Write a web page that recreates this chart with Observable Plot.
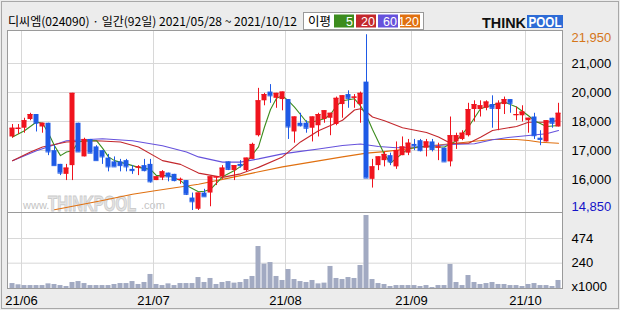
<!DOCTYPE html>
<html><head><meta charset="utf-8">
<script src="https://cdn.jsdelivr.net/npm/d3@7"></script>
<script src="https://cdn.jsdelivr.net/npm/@observablehq/plot@0.6"></script>
<style>
body{margin:0;background:#ececec;}
#wrap{position:relative;width:620px;height:310px;background:#ececec;overflow:hidden;font-family:"Liberation Sans",Arial,sans-serif;}
.abs{position:absolute;left:0;top:0;}
</style></head><body>
<div id="wrap">
  <div class="abs" style="left:1px;top:1px;width:616px;height:306px;border:1px solid #a8a8a8;"></div>
  <div class="abs" style="left:7px;top:30px;width:554px;height:257px;border:1px solid #9a9a9a;background:#fff;"></div>
  <div class="abs" style="left:8px;top:212px;width:554px;height:1px;background:#9a9a9a;"></div>
  <svg class="abs" width="620" height="310" id="deco"></svg>
</div>
<script>
// ---------- data ----------
const title = "디씨엠(024090) · 일간(92일) 2021/05/28 ~ 2021/10/12";
const opens  = [17800,18100,18150,18500,18700,18200,18350,17250,16700,16300,16650,18350,17000,17700,17400,17250,16950,16800,16800,16850,16500,16550,16650,16700,16050,16150,16350,16300,16050,16050,15350,14900,15550,15550,16150,16200,16800,16450,16700,16450,16900,17850,19250,19600,19350,19300,19300,18000,18350,18350,18150,18250,18500,18550,18300,19100,19500,19350,19100,20000,16100,16650,16850,17050,16600,17050,17150,17500,17650,17350,17600,17350,17350,16800,17600,17700,17850,18900,18900,18950,19100,18900,19100,19300,18650,18650,18450,18600,17750,17600,18550,18200];
const highs  = [18300,18300,18550,18750,18700,18350,18350,17450,16700,16700,19550,18350,17750,17700,17450,17250,17100,17000,16900,16900,16650,16650,16900,16900,16200,16450,16350,16300,16150,16050,15550,15550,15700,16200,16200,16650,16800,16650,16850,16950,17550,19750,19550,19900,19550,19600,19300,18600,18750,18450,18600,18750,18850,18750,19400,19450,19650,19500,19600,21900,16900,17000,17200,17150,17600,17800,17700,17700,17700,17700,17700,17550,17350,18600,17950,18050,19150,19250,19250,19250,19450,19250,19400,19300,19000,19050,18550,18750,18050,18450,18550,19150];
const lows   = [17750,17900,17950,18450,18000,17950,17050,16650,16250,16050,16050,17200,17000,17150,16850,16700,16400,16600,16400,16400,16300,16250,16400,15950,16050,16050,16000,16000,15900,15450,14850,14850,15400,15000,15850,16100,16450,16050,16550,16400,16900,17800,19050,19150,18950,18850,17700,17550,18200,17950,17600,17800,18350,17850,18250,18550,18950,18950,18350,16150,15750,16450,16600,16650,16500,17050,17050,17250,17200,17000,17200,16850,16800,16600,17300,17650,17800,18400,18600,18850,18150,18050,18700,18750,18450,18400,17950,17700,17450,17600,18150,18200];
const closes = [18150,18150,18450,18700,18350,18350,17200,16650,16350,16550,19550,17200,17700,17150,16850,17000,16600,16600,16650,16600,16450,16600,16450,16000,16200,16400,16200,16050,16100,15500,15200,15550,15400,16200,16200,16550,16500,16650,16650,16950,17500,19250,19500,19450,19550,19600,18200,18600,18250,18150,18600,18700,18850,18750,19350,19450,19350,19400,19550,16150,16600,17000,17100,16800,17250,17400,17550,17450,17250,17600,17300,17400,16800,17850,17850,17950,18900,19100,19050,19200,18950,19150,19300,19150,18700,18800,18550,17850,17700,18450,18350,18750];
const volumes = [47,35,28,28,28,28,44,38,28,19,57,66,47,28,28,28,28,38,47,47,66,38,57,133,38,28,44,28,47,47,47,104,57,95,38,57,66,51,57,85,114,398,231,246,114,76,180,85,66,57,76,44,51,209,95,85,104,95,218,692,85,47,38,19,28,28,28,28,19,28,9,28,28,228,57,28,123,57,38,47,57,38,38,28,28,19,38,47,28,28,19,76];

const ma5Idx = [0,2,4,5,6,7,8,9,10,11,12,14,15,16,17,19,21,23,24,26,28,29,31,32,33,35,37,39,41,42,43,44,45,46,47,48,49,50,52,53,54,55,57,58,59,60,61,62,63,64,66,68,70,72,74,76,78,80,82,84,86,87,89,91];
const ma5Val = [17800,18050,18400,18350,17950,17450,17050,17200,17250,17600,17650,17650,17350,17000,16850,16720,16580,16500,16250,16250,16050,15850,15600,15620,15700,16200,16450,16780,17400,18200,18900,19350,19450,19250,19000,18700,18400,18400,18530,18700,19050,19250,19330,19050,18650,18100,17600,17100,16750,16950,17330,17420,17400,17400,17650,18200,18930,19080,19200,19000,18650,18450,18220,18260];
const ma20Idx = [0,3,5,9,14,18,21,25,28,31,35,38,41,45,48,51,55,57,58,59,60,62,65,69,71,73,76,78,80,84,86,89,91];
const ma20Val = [16850,17200,17400,17600,17650,17600,17400,16850,16700,16350,16180,16320,16580,17000,17600,18050,18470,18880,18930,18800,18600,18450,18170,17980,17800,17550,17550,17790,18060,18220,18390,18390,18460];
const ma60Idx = [0,4,9,15,20,25,29,31,35,38,41,45,48,51,55,58,61,64,69,73,77,80,83,86,89,91];
const ma60Val = [16850,17250,17650,17730,17650,17450,17200,17000,16790,16790,16920,17120,17220,17320,17460,17520,17420,17370,17420,17500,17530,17690,17790,17860,17930,18060];
const ma120Idx = [7,15,20,24,31,35,40,45,50,55,59,62,66,70,74,77,80,84,86,88,91];
const ma120Val = [14880,15250,15500,15650,15900,16100,16350,16600,16800,17000,17150,17210,17330,17460,17550,17630,17700,17700,17660,17590,17550];

const priceTop = 21950, priceBottom = 14850;
const priceGrid = [16093,17257,18420,19583,20747];
const priceGridLabels = ["16,000","17,000","18,000","20,000","21,000"];
const volMax = 711;
const volGrid = [240,474];
const monthIdx = [2,24,46,67,86];
const monthLabels = ["21/06","21/07","21/08","21/09","21/10"];
const maNames = ["5","20","60","120"];

// ---------- style ----------
const RED = "#f0141e", BLUE = "#1e5ae6";
const MA_COL = ["#3c8c1e","#c3282d","#6652dc","#e07010"];
const GRID = "#d8d8d8";
const FONT = "Liberation Sans, Arial, sans-serif";

const N = opens.length;
const xDomain = d3.range(N);
const candles = opens.map((o,i)=>({i,o,h:highs[i],l:lows[i],c:closes[i],col: closes[i]>=o ? RED : BLUE}));
const maSeries = [[ma5Idx,ma5Val],[ma20Idx,ma20Val],[ma60Idx,ma60Val],[ma120Idx,ma120Val]]
  .map(([ix,vals],k)=>ix.map((i,j)=>({i,v:vals[j],k})));
const labelOf = new Map(priceGrid.map((v,i)=>[v,priceGridLabels[i]]));

const price = Plot.plot({
  width:620, height:212, marginLeft:8, marginRight:58, marginTop:33, marginBottom:2,
  x:{type:"band", domain:xDomain, padding:0, axis:null, label:null},
  y:{domain:[priceBottom, priceTop], axis:null, label:null},
  color:{type:"identity"},
  style:{background:"transparent", color:"#000", fontFamily:FONT, fontSize:"13px", overflow:"visible"},
  marks:[
    Plot.ruleY(priceGrid, {y:d=>d, stroke:GRID}),
    Plot.ruleX(monthIdx, {x:d=>d, dx:-3, stroke:GRID, insetTop:-2, insetBottom:-2}),
    ...maSeries.slice().reverse().map(s=>Plot.line(s, {x:"i", y:"v", stroke:MA_COL[s[0].k], strokeWidth:1.1})),
    Plot.ruleX(candles, {x:"i", y1:"l", y2:"h", stroke:"col"}),
    Plot.barY(candles, {x:"i", y1:"o", y2:"c", fill:"col", insetLeft:0.5, insetRight:0.5}),
    Plot.tickY(candles, {x:"i", y:"c", stroke:"col", insetLeft:0.5, insetRight:0.5}),
    Plot.axisY(priceGrid, {anchor:"right", label:null, tickSize:0, tickPadding:9, tickFormat:d=>labelOf.get(d), fontSize:13}),
    Plot.text([priceTop], {y:d=>d, text:d=>d3.format(",")(d), frameAnchor:"right", textAnchor:"start", dx:9, dy:4.5, fill:"#d5761a", fontSize:13}),
    Plot.text([priceBottom], {y:d=>d, text:d=>d3.format(",")(d), frameAnchor:"right", textAnchor:"start", dx:9, dy:-3.5, fill:"#1414c8", fontSize:13})
  ]
});

const volData = volumes.map((v,i)=>({i,v}));
const volume = Plot.plot({
  width:620, height:310, marginLeft:8, marginRight:58, marginTop:213, marginBottom:22,
  x:{type:"band", domain:xDomain, padding:0, axis:null, label:null},
  y:{domain:[0, volMax], axis:null, label:null},
  style:{background:"transparent", color:"#000", fontFamily:FONT, fontSize:"13px", overflow:"visible"},
  marks:[
    Plot.ruleY(volGrid, {y:d=>d, stroke:GRID}),
    Plot.ruleX(monthIdx, {x:d=>d, dx:-3, stroke:GRID}),
    Plot.barY(volData, {x:"i", y:"v", fill:"#a2aac2", insetLeft:0.5, insetRight:0.5}),
    Plot.axisY(volGrid, {anchor:"right", label:null, tickSize:0, tickPadding:9, fontSize:13}),
    Plot.text(["x1000"], {y:()=>0, text:d=>d, frameAnchor:"right", textAnchor:"start", dx:9, dy:-2, fontSize:13}),
    Plot.axisX(monthIdx, {anchor:"bottom", label:null, tickSize:0, tickPadding:7, dx:-3, tickFormat:d=>monthLabels[monthIdx.indexOf(d)], fontSize:13})
  ]
});

const wrap = document.getElementById("wrap");
for (const p of [price, volume]) { p.classList.add("abs"); p.style.position="absolute"; wrap.appendChild(p); }

// ---------- decorations: title, legend, logo, watermark ----------
const deco = d3.select("#deco");
deco.append("text").attr("x",8).attr("y",25.5).attr("font-family","Noto Sans CJK KR").attr("font-size",12)
  .attr("textLength",289).attr("lengthAdjust","spacingAndGlyphs").attr("fill","#000").text(title);
// legend
deco.append("rect").attr("x",303.5).attr("y",12.5).attr("width",120).attr("height",17).attr("fill","#fff").attr("stroke","#999");
deco.append("text").attr("x",308).attr("y",25.5).attr("font-family","Noto Sans CJK KR").attr("font-size",12.5).text("이평");
const boxX = [334,356,378,400], boxW = [20,20,20,20];
maNames.forEach((n,k)=>{
  deco.append("rect").attr("x",boxX[k]).attr("y",14.5).attr("width",boxW[k]).attr("height",13).attr("fill",MA_COL[k]);
  deco.append("text").attr("x",boxX[k]+boxW[k]-1).attr("y",25.5).attr("text-anchor","end").attr("fill","#fff")
    .attr("font-family",FONT).attr("font-size",12.5).text(n);
});
// logo
deco.append("rect").attr("x",527).attr("y",15).attr("width",36).attr("height",13).attr("fill","#2d6bd6");
deco.append("text").attr("x",482).attr("y",28).attr("font-family",FONT).attr("font-weight","bold").attr("font-size",15)
  .attr("textLength",44).attr("lengthAdjust","spacingAndGlyphs").attr("fill","#111").text("THINK");
deco.append("text").attr("x",528.5).attr("y",27).attr("font-family",FONT).attr("font-weight","bold").attr("font-size",14)
  .attr("textLength",33).attr("lengthAdjust","spacingAndGlyphs").attr("fill","#fff").text("POOL");
// watermark
deco.append("text").attr("x",23).attr("y",209).attr("font-family",FONT).attr("font-size",11).attr("fill","#c4c4c4").text("www.");
deco.append("text").attr("transform","translate(48,211) scale(1,1.5)").attr("font-family",FONT).attr("font-weight","bold").attr("font-size",15)
  .attr("fill","#e4e4e4").attr("stroke","#cccccc").attr("stroke-width",0.7).text("THINKPOOL");
deco.append("text").attr("x",141).attr("y",209).attr("font-family",FONT).attr("font-size",11).attr("fill","#c4c4c4").text(".com");
</script>
</body></html>
